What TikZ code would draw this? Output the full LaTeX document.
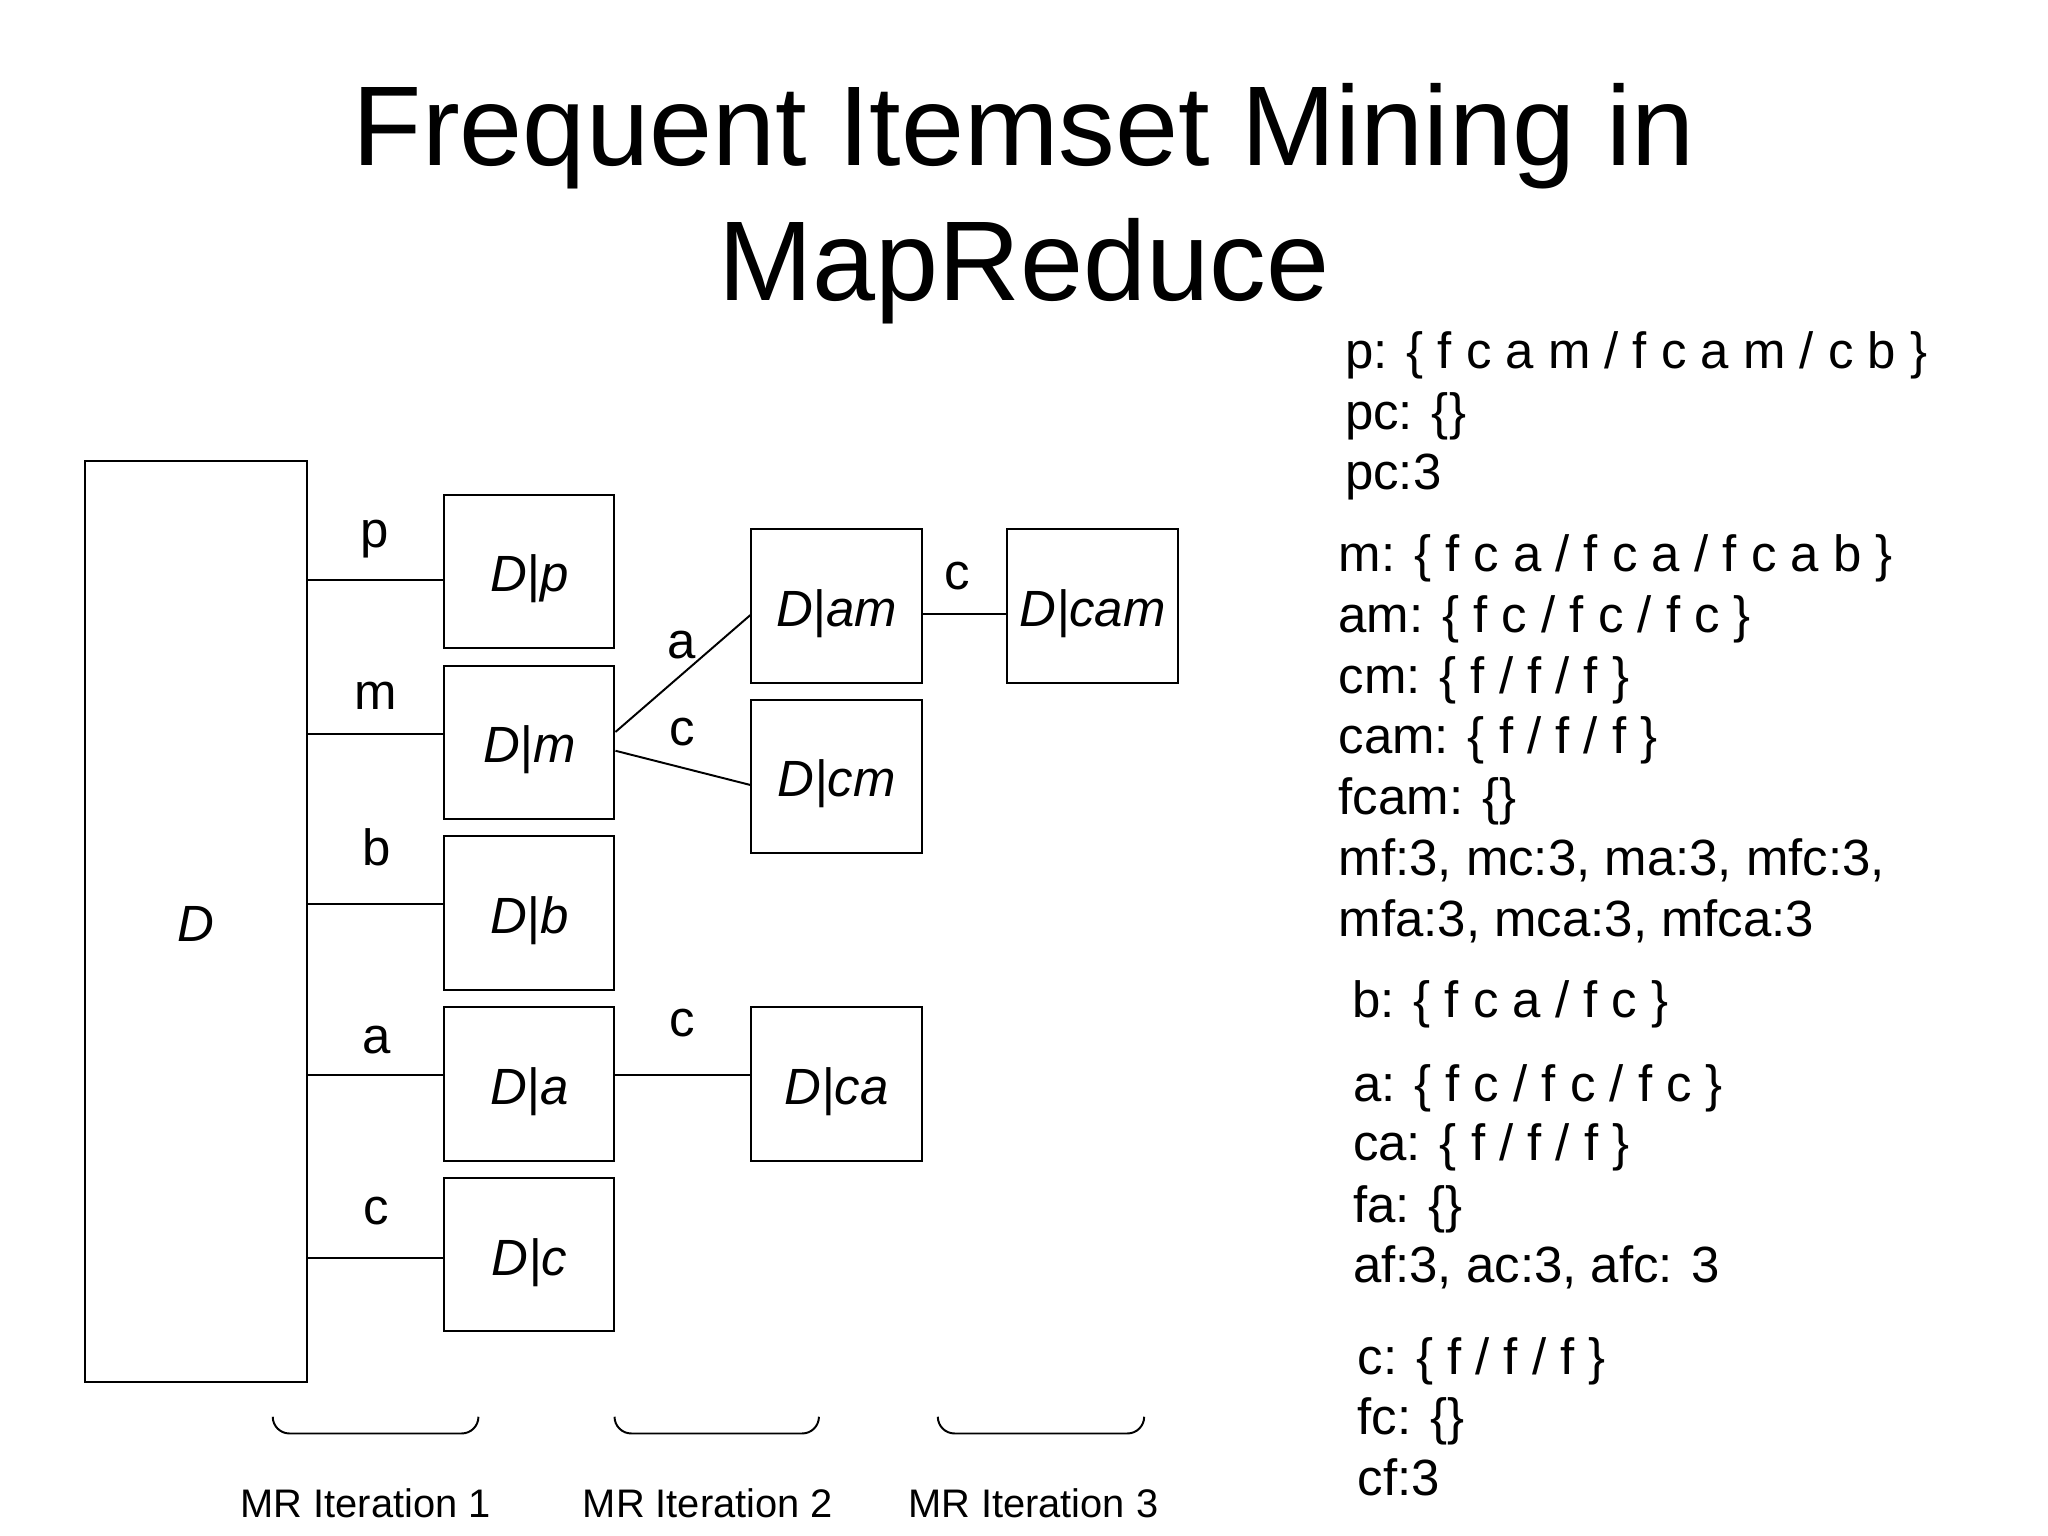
\documentclass[tikz,border=0pt]{standalone}
\usepackage{fontspec}
\setmainfont{Liberation Sans}
\usetikzlibrary{calc}
\begin{document}
\begin{tikzpicture}[x=0.5pt,y=-0.5pt,
  box/.style={draw, line width=0.75pt, inner sep=0pt, minimum width=65.25pt, minimum height=58.8pt, text height=17pt, text depth=1.4pt, font=\fontsize{19.5pt}{23pt}\selectfont\itshape},
  lbl/.style={anchor=base, inner sep=0pt, font=\fontsize{19.5pt}{23pt}\selectfont},
  txt/.style={anchor=base west, inner sep=0pt, font=\fontsize{19.5pt}{23pt}\selectfont},
  ttl/.style={anchor=base, inner sep=0pt, font=\fontsize{43.4pt}{52pt}\selectfont},
  mr/.style={anchor=base, inner sep=0pt, font=\fontsize{15.25pt}{18pt}\selectfont},
  conn/.style={line width=0.75pt},
  brace/.style={line width=0.75pt, rounded corners=6.4pt}
]
\useasboundingbox (0,0) rectangle (1568,1176);

% title
\node[ttl] (t1) at (784,127) {Frequent Itemset Mining in};
\node[ttl] (t2) at (784,230) {MapReduce};

% boxes
\node[box, minimum width=85.15pt, minimum height=352.65pt] (D) at (150.2,705.4) {D};
\node[box] (Dp) at (405.2,437.5) {D|p};
\node[box] (Dm) at (405.2,568.4) {D|m};
\node[box] (Db) at (405.2,699) {D|b};
\node[box] (Da) at (405.2,830) {D|a};
\node[box] (Dc) at (405.2,960.6) {D|c};
\node[box] (Dam) at (640.5,463.9) {D|am};
\node[box] (Dcm) at (640.5,594.4) {D|cm};
\node[box] (Dcam) at (836.5,463.9) {D|cam};
\node[box] (Dca) at (640.5,830) {D|ca};

% connector end points
\coordinate (ep) at ($(Dp.west)+(0,6.5)$);
\coordinate (em) at ($(Dm.west)+(0,-6.6)$);
\coordinate (eb) at ($(Db.west)+(0,-6.6)$);
\coordinate (ea) at ($(Da.west)+(0,-6.6)$);
\coordinate (ec) at ($(Dc.west)+(0,2.4)$);
\coordinate (mA) at ($(Dm.east)+(0,-8)$);
\coordinate (amA) at ($(Dam.west)+(0,7)$);
\coordinate (mC) at ($(Dm.east)+(0,6.4)$);
\coordinate (cmC) at ($(Dcm.west)+(0,6.6)$);
\coordinate (amC) at ($(Dam.east)+(0,6)$);
\coordinate (aC) at ($(Da.east)+(0,-6.6)$);

\draw[conn] (ep -| D.east) -- (ep);
\draw[conn] (em -| D.east) -- (em);
\draw[conn] (eb -| D.east) -- (eb);
\draw[conn] (ea -| D.east) -- (ea);
\draw[conn] (ec -| D.east) -- (ec);
\draw[conn] (mA) -- (amA);
\draw[conn] (mC) -- (cmC);
\draw[conn] (amC) -- (amC -| Dcam.west);
\draw[conn] (aC) -- (aC -| Dca.west);

% edge labels
\node[lbl] (lp) at (287,419) {p};
\node[lbl] (lm) at (287.6,543) {m};
\node[lbl] (lb) at (288.4,662.8) {b};
\node[lbl] (la) at (288,806.5) {a};
\node[lbl] (lc) at (288,937.2) {c};
\node[lbl] (lma) at (522,504) {a};
\node[lbl] (lmc) at (522,571) {c};
\node[lbl] (lamc) at (733,451.7) {c};
\node[lbl] (lac) at (522.5,793.8) {c};

% braces
\draw[brace] (208.8,1084.7) |- (366.3,1097.5) -- (366.3,1084.7);
\draw[brace] (470.5,1084.7) |- (627,1097.5) -- (627,1084.7);
\draw[brace] (718,1084.7) |- (876,1097.5) -- (876,1084.7);

\node[mr] (mr1) at (280,1162) {MR Iteration 1};
\node[mr] (mr2) at (542,1162) {MR Iteration 2};
\node[mr] (mr3) at (791,1162) {MR Iteration 3};

% right-hand text
\node[txt] (r1) at (1029.5,281.9) {p: \{ f c a m / f c a m / c b \}};
\node[txt] (r2) at (1029.5,328.8) {pc: \{\}};
\node[txt] (r3) at (1029.5,374.7) {pc:3};

\node[txt] (r4) at (1024.5,437.2) {m: \{ f c a / f c a / f c a b \}};
\node[txt] (r5) at (1024.5,484) {am: \{ f c / f c / f c \}};
\node[txt] (r6) at (1024.5,531) {cm: \{ f / f / f \}};
\node[txt] (r7) at (1024.5,577) {cam: \{ f / f / f \}};
\node[txt] (r8) at (1024.5,623.8) {fcam: \{\}};
\node[txt] (r9) at (1024.5,670) {mf:3, mc:3, ma:3, mfc:3,};
\node[txt] (r10) at (1024.5,716.9) {mfa:3, mca:3, mfca:3};

\node[txt] (r11) at (1035,778.9) {b: \{ f c a / f c \}};

\node[txt] (r12) at (1035.5,843) {a: \{ f c / f c / f c \}};
\node[txt] (r13) at (1035.5,888.8) {ca: \{ f / f / f \}};
\node[txt] (r14) at (1035.5,936) {fa: \{\}};
\node[txt] (r15) at (1035.5,981.6) {af:3, ac:3, afc: 3};

\node[txt] (r16) at (1039,1052) {c: \{ f / f / f \}};
\node[txt] (r17) at (1039,1098) {fc: \{\}};
\node[txt] (r18) at (1039,1144.6) {cf:3};
\end{tikzpicture}
\end{document}
